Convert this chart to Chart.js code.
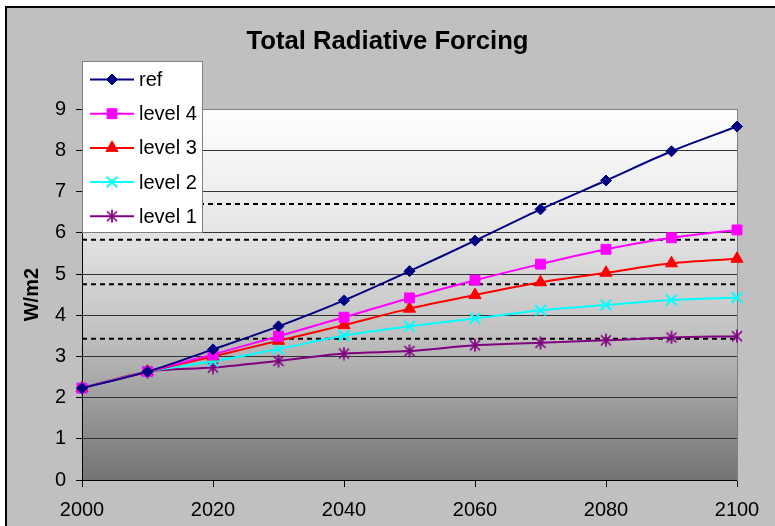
<!DOCTYPE html>
<html>
<head>
<meta charset="utf-8">
<script src="https://cdn.jsdelivr.net/npm/chart.js@4.4.0/dist/chart.umd.min.js"></script>
<style>
  html, body { margin: 0; padding: 0; background: #fff; }
</style>
</head>
<body>
<canvas id="chart" width="775" height="526"></canvas>
<script>
const years = [2000, 2010, 2020, 2030, 2040, 2050, 2060, 2070, 2080, 2090, 2100]
const refVals = [2.23, 2.63, 3.17, 3.73, 4.36, 5.07, 5.81, 6.57, 7.27, 7.98, 8.58]
const level4 = [2.23, 2.63, 3.05, 3.49, 3.95, 4.42, 4.85, 5.24, 5.60, 5.88, 6.07]
const level3 = [2.23, 2.63, 3.00, 3.38, 3.76, 4.16, 4.49, 4.80, 5.03, 5.26, 5.37]
const level2 = [2.23, 2.63, 2.88, 3.18, 3.50, 3.73, 3.92, 4.12, 4.25, 4.37, 4.43]
const level1 = [2.23, 2.63, 2.73, 2.89, 3.07, 3.13, 3.27, 3.33, 3.39, 3.46, 3.49]
// dotted target levels
const targets = [6.7, 5.83, 4.75, 3.43]
const yTicks = [0, 1, 2, 3, 4, 5, 6, 7, 8, 9]
const xTicks = [2000, 2020, 2040, 2060, 2080, 2100]

const FONT = "'Liberation Sans', Arial, sans-serif"

const xy = vals => vals.map((v, i) => ({x: years[i], y: v}))

// excel style asterisk marker
function asterisk(color) {
  const c = document.createElement('canvas')
  c.width = 14; c.height = 14
  const g = c.getContext('2d')
  g.strokeStyle = color
  g.lineWidth = 1.7
  g.beginPath()
  g.moveTo(2, 2); g.lineTo(12, 12)
  g.moveTo(12, 2); g.lineTo(2, 12)
  g.moveTo(7, 0.5); g.lineTo(7, 13.5)
  g.stroke()
  return c
}

const series = (label, vals, color, style, radius, bw) => ({
  label: label,
  data: xy(vals),
  borderColor: color,
  backgroundColor: color,
  pointBackgroundColor: color,
  pointBorderColor: color,
  pointStyle: style,
  pointRadius: radius,
  pointHoverRadius: radius,
  pointBorderWidth: bw,
  borderWidth: 2,
  tension: 0.3,
  clip: false,
  order: 1
})

const datasets = [
  series('ref', refVals, '#000080', 'rectRot', 5.5, 1),
  series('level 4', level4, '#ff00ff', 'rect', 7, 1),
  series('level 3', level3, '#ff0000', 'triangle', 7, 1),
  series('level 2', level2, '#00ffff', 'crossRot', 7.5, 2),
  series('level 1', level1, '#800080', asterisk('#800080'), 7, 1)
]
targets.forEach(t => datasets.push({
  label: '',
  isTarget: true,
  data: [{x: years[0], y: t}, {x: years[years.length - 1], y: t}],
  borderColor: '#000',
  borderWidth: 2,
  borderDash: [5, 4],
  pointRadius: 0,
  order: 10
}))

const backdrop = {
  id: 'backdrop',
  beforeDraw(chart) {
    const ctx = chart.ctx, a = chart.chartArea
    ctx.save()
    ctx.fillStyle = '#fff'
    ctx.fillRect(0, 0, chart.width, chart.height)
    ctx.fillStyle = '#c0c0c0'
    ctx.fillRect(6, 7, chart.width, chart.height)
    ctx.fillStyle = '#000'
    ctx.fillRect(5, 6, chart.width, 2)
    ctx.fillRect(5, 6, 2, chart.height)
    const grad = ctx.createLinearGradient(0, a.top, 0, a.bottom)
    grad.addColorStop(0, '#ffffff')
    grad.addColorStop(0.3, '#e8e8e8')
    grad.addColorStop(0.6, '#c2c2c2')
    grad.addColorStop(1, '#737373')
    ctx.fillStyle = grad
    ctx.fillRect(a.left, a.top, a.right - a.left, a.bottom - a.top)
    ctx.restore()
  }
}

const boxLegend = {
  id: 'boxLegend',
  afterDraw(chart) {
    const ctx = chart.ctx
    const x0 = 82, y0 = 61, w = 120, h = 171
    ctx.save()
    ctx.fillStyle = '#fff'
    ctx.fillRect(x0, y0, w, h)
    ctx.strokeStyle = '#808080'
    ctx.lineWidth = 1
    ctx.strokeRect(x0 + 0.5, y0 + 0.5, w, h)
    chart.data.datasets.filter(d => !d.isTarget).forEach((d, i) => {
      const y = 79.5 + i * 34.2
      ctx.strokeStyle = d.borderColor
      ctx.lineWidth = 2
      ctx.beginPath()
      ctx.moveTo(90, y)
      ctx.lineTo(134, y)
      ctx.stroke()
      ctx.fillStyle = d.pointBackgroundColor
      ctx.strokeStyle = d.pointBorderColor
      ctx.lineWidth = d.pointBorderWidth
      Chart.helpers.drawPoint(ctx, {pointStyle: d.pointStyle, radius: d.pointRadius, rotation: 0, borderWidth: d.pointBorderWidth}, 112, y)
      ctx.fillStyle = '#000'
      ctx.font = '20px ' + FONT
      ctx.textBaseline = 'middle'
      ctx.textAlign = 'left'
      ctx.fillText(d.label, 139, y + 1)
    })
    ctx.restore()
  }
}

new Chart(document.getElementById('chart'), {
  type: 'line',
  data: {datasets: datasets},
  options: {
    responsive: false,
    animation: false,
    events: [],
    layout: {padding: {left: 0, right: 0, top: 0, bottom: 0}},
    plugins: {
      legend: {display: false},
      tooltip: {enabled: false},
      title: {
        display: true,
        text: 'Total Radiative Forcing',
        color: '#000',
        font: {family: FONT, size: 25.7, weight: 'bold'},
        padding: {top: 26.6, bottom: 51.8}
      }
    },
    scales: {
      x: {
        type: 'linear',
        min: 2000,
        max: 2100,
        afterBuildTicks: s => { s.ticks = xTicks.map(v => ({value: v})) },
        afterFit: s => { s.height = 46 },
        grid: {drawOnChartArea: false, drawTicks: true, tickLength: 7, color: '#000'},
        border: {color: '#000', width: 1},
        ticks: {
          color: '#000',
          font: {family: FONT, size: 20},
          padding: 11,
          maxRotation: 0,
          callback: v => String(v)
        }
      },
      y: {
        min: 0,
        max: 9,
        afterBuildTicks: s => { s.ticks = yTicks.map(v => ({value: v})) },
        afterFit: s => { s.width = 82 },
        grid: {
          color: c => c.tick.value === 9 ? '#808080' : '#333',
          tickColor: '#000',
          tickLength: 6,
          lineWidth: 1
        },
        border: {color: '#000', width: 1},
        ticks: {
          color: '#000',
          font: {family: FONT, size: 20},
          padding: 10
        },
        title: {
          display: true,
          text: 'W/m2',
          color: '#000',
          font: {family: FONT, size: 20, weight: 'bold'},
          padding: {top: 20, bottom: 0}
        }
      },
      y2: {
        position: 'right',
        min: 0,
        max: 9,
        afterFit: s => { s.width = 38 },
        grid: {display: false},
        ticks: {display: false},
        border: {display: true, color: '#808080', width: 1}
      }
    }
  },
  plugins: [backdrop, boxLegend]
})
</script>
</body>
</html>
